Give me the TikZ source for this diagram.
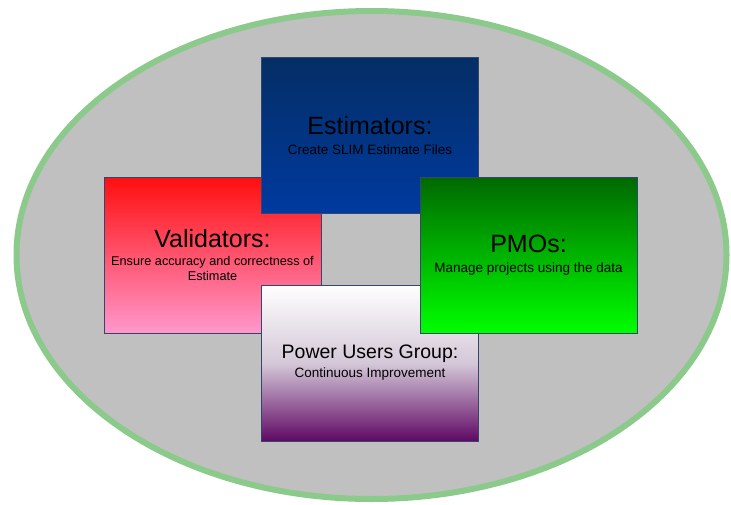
\documentclass[tikz,border=0pt]{standalone}
\usepackage{fontspec}
\setmainfont{Liberation Sans}
\usetikzlibrary{positioning}

\definecolor{ovalfill}{RGB}{192,192,192}
\definecolor{ovalline}{RGB}{140,202,140}
\definecolor{panelline}{RGB}{50,70,110}
\definecolor{navytop}{RGB}{4,46,100}
\definecolor{navybot}{RGB}{0,58,160}
\definecolor{redtop}{RGB}{255,14,14}
\definecolor{pinkbot}{RGB}{255,152,204}
\definecolor{greentop}{RGB}{0,104,0}
\definecolor{greenbot}{RGB}{0,255,0}
\definecolor{lavendermid}{RGB}{212,200,216}
\definecolor{purplebot}{RGB}{96,8,100}

\begin{document}
\begin{tikzpicture}[x=1pt,y=-1pt,
		panel/.style={rectangle,draw=panelline,line width=0.8pt,minimum width=217pt,minimum height=156pt,inner sep=0pt,align=center,text=black,font=\fontsize{13.5}{15}\selectfont},
		estim/.style={panel,top color=navytop,bottom color=navybot},
		valid/.style={panel,top color=redtop,bottom color=pinkbot,font=\fontsize{12.7}{15}\selectfont},
		pmo/.style={panel,top color=greentop,bottom color=greenbot},
		users/.style={panel,top color=white,bottom color=purplebot,middle color=lavendermid}]
		\useasboundingbox (0,0) rectangle (731,504);
		\draw[ovalline,line width=6pt,fill=ovalfill] (371.5,255) ellipse [x radius=355, y radius=244];

		\node[valid]	(validators)	at (212.5,255)	{{\fontsize{25}{30}\selectfont Validators:}\\[3pt] Ensure accuracy and correctness of\\ Estimate};
		\node[estim]	(estimators)	at (370,135.5)	{{\fontsize{25}{30}\selectfont Estimators:}\\[5pt] Create SLIM Estimate Files};
		\node[users]	(powerusers)	at (370,363)	{{\fontsize{19.5}{24}\selectfont Power Users Group:}\\[4pt] Continuous Improvement};
		\node[pmo]		(pmos)			at (528.5,255)	{{\fontsize{25}{30}\selectfont PMOs:}\\[5pt] Manage projects using the data};
	\end{tikzpicture}
\end{document}
